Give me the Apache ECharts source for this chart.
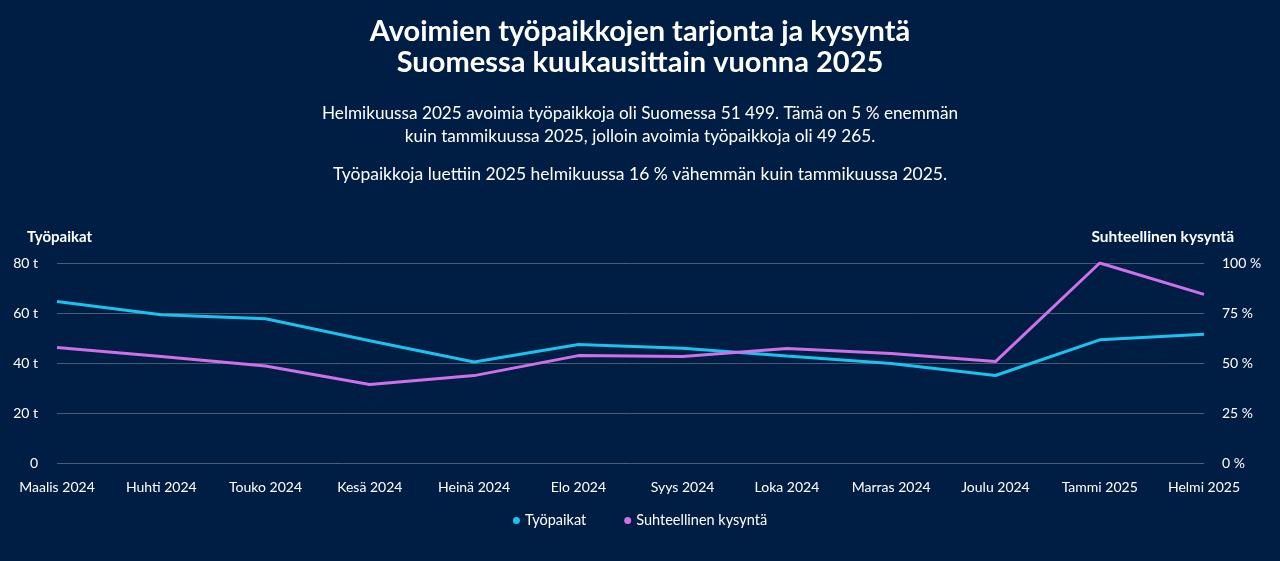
<!DOCTYPE html>
<html><head><meta charset="utf-8">
<script src="https://cdn.jsdelivr.net/npm/echarts@6/dist/echarts.min.js"></script>
<style>html,body{margin:0;padding:0;background:#001e44;}#c{width:1280px;height:561px;}</style>
</head><body><div id="c"></div>
<script>
var categories = ['Maalis 2024','Huhti 2024','Touko 2024','Kesä 2024','Heinä 2024','Elo 2024','Syys 2024','Loka 2024','Marras 2024','Joulu 2024','Tammi 2025','Helmi 2025'];
var tyopaikat = [64600, 59300, 57700, 48900, 40400, 47400, 45900, 42800, 39800, 35000, 49265, 51499];
var kysynta = [57.8, 53.2, 48.5, 39.3, 43.7, 53.7, 53.3, 57.2, 54.8, 50.7, 100, 84.3];
var leftTicks = [0, 20000, 40000, 60000, 80000];
var rightTicks = [0, 25, 50, 75, 100];
var FONT = 'Lato';
var chart = echarts.init(document.getElementById('c'));
chart.setOption({
  backgroundColor: '#001e44',
  textStyle: {fontFamily: FONT},
  title: [
    {text: 'Avoimien työpaikkojen tarjonta ja kysyntä\nSuomessa kuukausittain vuonna 2025', left: 'center', top: 11,
     textStyle: {color: '#ffffff', fontSize: 29, fontWeight: 'bold', lineHeight: 31, fontFamily: FONT}},
    {text: 'Helmikuussa 2025 avoimia työpaikkoja oli Suomessa 51 499. Tämä on 5 % enemmän\nkuin tammikuussa 2025, jolloin avoimia työpaikkoja oli 49 265.', left: 'center', top: 97,
     textStyle: {color: '#ffffff', fontSize: 17.2, fontWeight: 'normal', lineHeight: 23, fontFamily: FONT}},
    {text: 'Työpaikkoja luettiin 2025 helmikuussa 16 % vähemmän kuin tammikuussa 2025.', left: 'center', top: 160,
     textStyle: {color: '#ffffff', fontSize: 17.5, fontWeight: 'normal', fontFamily: FONT}}
  ],
  legend: {bottom: 28, left: 'center', icon: 'circle', itemWidth: 7, itemHeight: 7, itemGap: 38,
    textStyle: {color: '#ffffff', fontSize: 14.5, fontFamily: FONT},
    data: ['Työpaikat', 'Suhteellinen kysyntä']},
  grid: {left: 57, right: 76, top: 263, bottom: 98, containLabel: false},
  xAxis: {type: 'category', data: categories, boundaryGap: false,
    axisLine: {show: false}, axisTick: {show: false},
    axisLabel: {color: '#ffffff', fontSize: 14, margin: 17, interval: 0}},
  yAxis: [
    {type: 'value', min: leftTicks[0], max: leftTicks[leftTicks.length-1], interval: 20000,
     name: 'Työpaikat', nameLocation: 'end', nameGap: 18,
     nameTextStyle: {color: '#ffffff', fontSize: 15, fontWeight: 'bold', align: 'left', padding: [0,0,0,-30]},
     axisLine: {show: false}, axisTick: {show: false},
     axisLabel: {color: '#ffffff', fontSize: 14, margin: 19, formatter: function(v){return v===0?'0':(v/1000)+' t';}},
     splitLine: {lineStyle: {color: '#4d5d75', width: 1}}},
    {type: 'value', min: rightTicks[0], max: rightTicks[rightTicks.length-1], interval: 25,
     name: 'Suhteellinen kysyntä', nameLocation: 'end', nameGap: 18,
     nameTextStyle: {color: '#ffffff', fontSize: 15.5, fontWeight: 'bold', align: 'right', padding: [0,-30,0,0]},
     axisLine: {show: false}, axisTick: {show: false},
     axisLabel: {color: '#ffffff', fontSize: 14, margin: 18, formatter: function(v){return v+' %';}},
     splitLine: {show: false}}
  ],
  series: [
    {name: 'Työpaikat', type: 'line', data: tyopaikat, yAxisIndex: 0, symbol: 'none', color: '#19c3f0',
     lineStyle: {width: 3, color: '#19c3f0'}},
    {name: 'Suhteellinen kysyntä', type: 'line', data: kysynta, yAxisIndex: 1, symbol: 'none', color: '#d070e8',
     lineStyle: {width: 3, color: '#d070e8'}}
  ]
});
</script></body></html>
